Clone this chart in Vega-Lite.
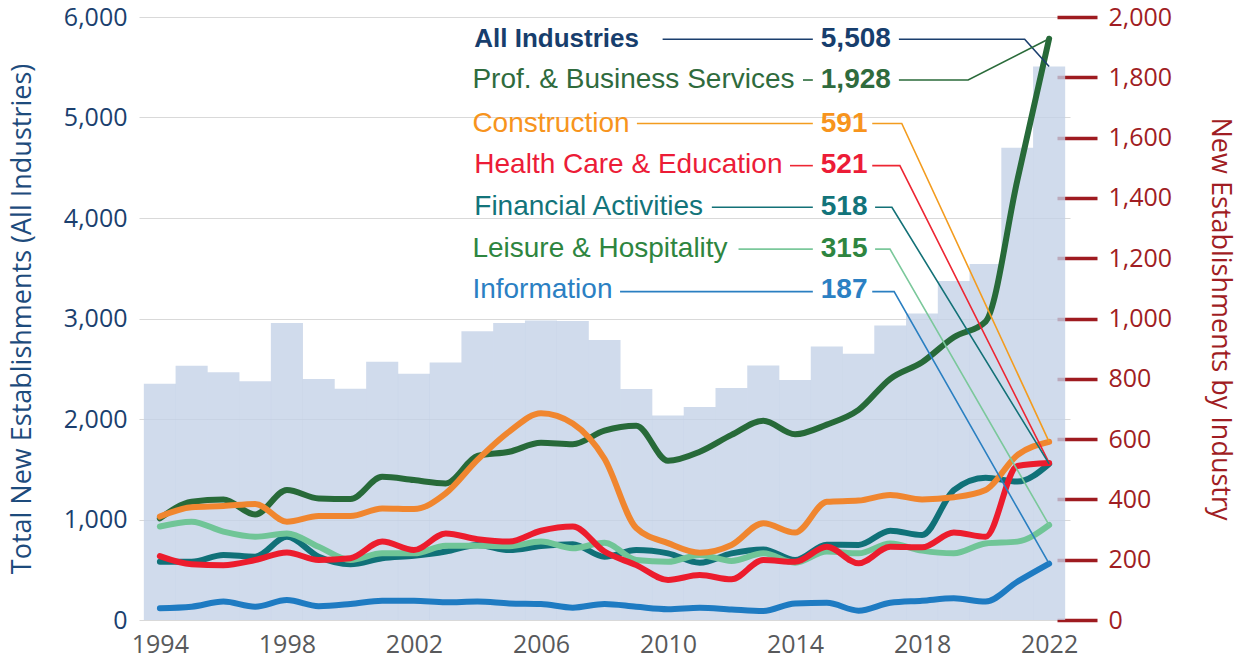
{
  "$schema": "https://vega.github.io/schema/vega-lite/v6.json",
  "width": 931,
  "height": 603,
  "autosize": {"type": "none"},
  "padding": {"left": 139, "top": 17, "right": 176, "bottom": 41},
  "config": {"font": "Open Sans", "view": {"stroke": null}},
  "resolve": {"scale": {"y": "independent", "color": "independent"}},
  "layer": [
    {
      "data": {"values": [
        {"year": 1994, "total": 2350}, {"year": 1995, "total": 2530}, {"year": 1996, "total": 2465},
        {"year": 1997, "total": 2375}, {"year": 1998, "total": 2955}, {"year": 1999, "total": 2398},
        {"year": 2000, "total": 2302}, {"year": 2001, "total": 2570}, {"year": 2002, "total": 2451},
        {"year": 2003, "total": 2562}, {"year": 2004, "total": 2872}, {"year": 2005, "total": 2955},
        {"year": 2006, "total": 2980}, {"year": 2007, "total": 2975}, {"year": 2008, "total": 2786},
        {"year": 2009, "total": 2299}, {"year": 2010, "total": 2035}, {"year": 2011, "total": 2120},
        {"year": 2012, "total": 2308}, {"year": 2013, "total": 2533}, {"year": 2014, "total": 2387},
        {"year": 2015, "total": 2722}, {"year": 2016, "total": 2650}, {"year": 2017, "total": 2930},
        {"year": 2018, "total": 3050}, {"year": 2019, "total": 3373}, {"year": 2020, "total": 3542},
        {"year": 2021, "total": 4700}, {"year": 2022, "total": 5508}
      ]},
      "mark": {"type": "bar", "width": 32.1, "color": "#c3d1e7", "opacity": 0.78},
      "encoding": {
        "x": {"field": "year", "type": "quantitative",
          "scale": {"domain": [1993.5, 2022.5], "nice": false, "zero": false},
          "axis": {"values": [1994, 1998, 2002, 2006, 2010, 2014, 2018, 2022], "format": "d", "title": null,
            "grid": false, "domain": false, "ticks": false, "tickSize": 0, "labelPadding": 12,
            "labelFontSize": 25, "labelColor": "#58595b", "labelFlush": false}},
        "y": {"field": "total", "type": "quantitative",
          "scale": {"domain": [0, 6000], "nice": false},
          "axis": {"orient": "left", "values": [0, 1000, 2000, 3000, 4000, 5000, 6000], "format": ",d",
            "grid": true, "gridColor": "#d9d9d9", "gridWidth": 1.2, "domain": false, "ticks": false, "tickSize": 0,
            "labelPadding": 12, "labelFontSize": 25, "labelColor": "#1b3f6e",
            "title": "Total New Establishments (All Industries)", "titleFontSize": 27, "titleFontWeight": "normal",
            "titleColor": "#1d4b7c", "titlePadding": 27}}
      }
    },
    {
      "resolve": {"scale": {"color": "independent"}},
      "layer": [
        {
          "data": {"values": [
            {"year": 1994, "series": "Information", "v": 39}, {"year": 1995, "series": "Information", "v": 44},
            {"year": 1996, "series": "Information", "v": 61}, {"year": 1997, "series": "Information", "v": 44},
            {"year": 1998, "series": "Information", "v": 66}, {"year": 1999, "series": "Information", "v": 46},
            {"year": 2000, "series": "Information", "v": 53}, {"year": 2001, "series": "Information", "v": 64},
            {"year": 2002, "series": "Information", "v": 64}, {"year": 2003, "series": "Information", "v": 59},
            {"year": 2004, "series": "Information", "v": 61}, {"year": 2005, "series": "Information", "v": 55},
            {"year": 2006, "series": "Information", "v": 53}, {"year": 2007, "series": "Information", "v": 41},
            {"year": 2008, "series": "Information", "v": 53}, {"year": 2009, "series": "Information", "v": 44},
            {"year": 2010, "series": "Information", "v": 36}, {"year": 2011, "series": "Information", "v": 41},
            {"year": 2012, "series": "Information", "v": 35}, {"year": 2013, "series": "Information", "v": 30},
            {"year": 2014, "series": "Information", "v": 55}, {"year": 2015, "series": "Information", "v": 57},
            {"year": 2016, "series": "Information", "v": 31}, {"year": 2017, "series": "Information", "v": 57},
            {"year": 2018, "series": "Information", "v": 64}, {"year": 2019, "series": "Information", "v": 72},
            {"year": 2020, "series": "Information", "v": 61}, {"year": 2021, "series": "Information", "v": 127},
            {"year": 2022, "series": "Information", "v": 187},

            {"year": 1994, "series": "Prof. & Business Services", "v": 337}, {"year": 1995, "series": "Prof. & Business Services", "v": 392},
            {"year": 1996, "series": "Prof. & Business Services", "v": 400}, {"year": 1997, "series": "Prof. & Business Services", "v": 350},
            {"year": 1998, "series": "Prof. & Business Services", "v": 431}, {"year": 1999, "series": "Prof. & Business Services", "v": 403},
            {"year": 2000, "series": "Prof. & Business Services", "v": 401}, {"year": 2001, "series": "Prof. & Business Services", "v": 475},
            {"year": 2002, "series": "Prof. & Business Services", "v": 464}, {"year": 2003, "series": "Prof. & Business Services", "v": 453},
            {"year": 2004, "series": "Prof. & Business Services", "v": 544}, {"year": 2005, "series": "Prof. & Business Services", "v": 558},
            {"year": 2006, "series": "Prof. & Business Services", "v": 588}, {"year": 2007, "series": "Prof. & Business Services", "v": 583},
            {"year": 2008, "series": "Prof. & Business Services", "v": 628}, {"year": 2009, "series": "Prof. & Business Services", "v": 644},
            {"year": 2010, "series": "Prof. & Business Services", "v": 528}, {"year": 2011, "series": "Prof. & Business Services", "v": 558},
            {"year": 2012, "series": "Prof. & Business Services", "v": 614}, {"year": 2013, "series": "Prof. & Business Services", "v": 661},
            {"year": 2014, "series": "Prof. & Business Services", "v": 616}, {"year": 2015, "series": "Prof. & Business Services", "v": 648},
            {"year": 2016, "series": "Prof. & Business Services", "v": 697}, {"year": 2017, "series": "Prof. & Business Services", "v": 800},
            {"year": 2018, "series": "Prof. & Business Services", "v": 855}, {"year": 2019, "series": "Prof. & Business Services", "v": 938},
            {"year": 2020, "series": "Prof. & Business Services", "v": 990}, {"year": 2021, "series": "Prof. & Business Services", "v": 1459},
            {"year": 2022, "series": "Prof. & Business Services", "v": 1928},

            {"year": 1994, "series": "Financial Activities", "v": 193}, {"year": 1995, "series": "Financial Activities", "v": 193},
            {"year": 1996, "series": "Financial Activities", "v": 216}, {"year": 1997, "series": "Financial Activities", "v": 210},
            {"year": 1998, "series": "Financial Activities", "v": 276}, {"year": 1999, "series": "Financial Activities", "v": 210},
            {"year": 2000, "series": "Financial Activities", "v": 185}, {"year": 2001, "series": "Financial Activities", "v": 205},
            {"year": 2002, "series": "Financial Activities", "v": 213}, {"year": 2003, "series": "Financial Activities", "v": 227},
            {"year": 2004, "series": "Financial Activities", "v": 249}, {"year": 2005, "series": "Financial Activities", "v": 232},
            {"year": 2006, "series": "Financial Activities", "v": 245}, {"year": 2007, "series": "Financial Activities", "v": 251},
            {"year": 2008, "series": "Financial Activities", "v": 210}, {"year": 2009, "series": "Financial Activities", "v": 232},
            {"year": 2010, "series": "Financial Activities", "v": 221}, {"year": 2011, "series": "Financial Activities", "v": 190},
            {"year": 2012, "series": "Financial Activities", "v": 221}, {"year": 2013, "series": "Financial Activities", "v": 234},
            {"year": 2014, "series": "Financial Activities", "v": 199}, {"year": 2015, "series": "Financial Activities", "v": 250},
            {"year": 2016, "series": "Financial Activities", "v": 249}, {"year": 2017, "series": "Financial Activities", "v": 296},
            {"year": 2018, "series": "Financial Activities", "v": 282}, {"year": 2019, "series": "Financial Activities", "v": 431},
            {"year": 2020, "series": "Financial Activities", "v": 472}, {"year": 2021, "series": "Financial Activities", "v": 459},
            {"year": 2022, "series": "Financial Activities", "v": 518},

            {"year": 1994, "series": "Leisure & Hospitality", "v": 310}, {"year": 1995, "series": "Leisure & Hospitality", "v": 326},
            {"year": 1996, "series": "Leisure & Hospitality", "v": 293}, {"year": 1997, "series": "Leisure & Hospitality", "v": 276},
            {"year": 1998, "series": "Leisure & Hospitality", "v": 287}, {"year": 1999, "series": "Leisure & Hospitality", "v": 243},
            {"year": 2000, "series": "Leisure & Hospitality", "v": 199}, {"year": 2001, "series": "Leisure & Hospitality", "v": 221},
            {"year": 2002, "series": "Leisure & Hospitality", "v": 221}, {"year": 2003, "series": "Leisure & Hospitality", "v": 246},
            {"year": 2004, "series": "Leisure & Hospitality", "v": 246}, {"year": 2005, "series": "Leisure & Hospitality", "v": 245},
            {"year": 2006, "series": "Leisure & Hospitality", "v": 260}, {"year": 2007, "series": "Leisure & Hospitality", "v": 238},
            {"year": 2008, "series": "Leisure & Hospitality", "v": 256}, {"year": 2009, "series": "Leisure & Hospitality", "v": 199},
            {"year": 2010, "series": "Leisure & Hospitality", "v": 193}, {"year": 2011, "series": "Leisure & Hospitality", "v": 216},
            {"year": 2012, "series": "Leisure & Hospitality", "v": 196}, {"year": 2013, "series": "Leisure & Hospitality", "v": 221},
            {"year": 2014, "series": "Leisure & Hospitality", "v": 190}, {"year": 2015, "series": "Leisure & Hospitality", "v": 227},
            {"year": 2016, "series": "Leisure & Hospitality", "v": 221}, {"year": 2017, "series": "Leisure & Hospitality", "v": 254},
            {"year": 2018, "series": "Leisure & Hospitality", "v": 230}, {"year": 2019, "series": "Leisure & Hospitality", "v": 221},
            {"year": 2020, "series": "Leisure & Hospitality", "v": 254}, {"year": 2021, "series": "Leisure & Hospitality", "v": 260},
            {"year": 2022, "series": "Leisure & Hospitality", "v": 315},

            {"year": 1994, "series": "Health Care & Education", "v": 212}, {"year": 1995, "series": "Health Care & Education", "v": 185},
            {"year": 1996, "series": "Health Care & Education", "v": 182}, {"year": 1997, "series": "Health Care & Education", "v": 199},
            {"year": 1998, "series": "Health Care & Education", "v": 224}, {"year": 1999, "series": "Health Care & Education", "v": 199},
            {"year": 2000, "series": "Health Care & Education", "v": 205}, {"year": 2001, "series": "Health Care & Education", "v": 260},
            {"year": 2002, "series": "Health Care & Education", "v": 232}, {"year": 2003, "series": "Health Care & Education", "v": 287},
            {"year": 2004, "series": "Health Care & Education", "v": 268}, {"year": 2005, "series": "Health Care & Education", "v": 260},
            {"year": 2006, "series": "Health Care & Education", "v": 296}, {"year": 2007, "series": "Health Care & Education", "v": 310},
            {"year": 2008, "series": "Health Care & Education", "v": 227}, {"year": 2009, "series": "Health Care & Education", "v": 182},
            {"year": 2010, "series": "Health Care & Education", "v": 133}, {"year": 2011, "series": "Health Care & Education", "v": 149},
            {"year": 2012, "series": "Health Care & Education", "v": 135}, {"year": 2013, "series": "Health Care & Education", "v": 199},
            {"year": 2014, "series": "Health Care & Education", "v": 193}, {"year": 2015, "series": "Health Care & Education", "v": 243},
            {"year": 2016, "series": "Health Care & Education", "v": 188}, {"year": 2017, "series": "Health Care & Education", "v": 243},
            {"year": 2018, "series": "Health Care & Education", "v": 241}, {"year": 2019, "series": "Health Care & Education", "v": 290},
            {"year": 2020, "series": "Health Care & Education", "v": 276}, {"year": 2021, "series": "Health Care & Education", "v": 511},
            {"year": 2022, "series": "Health Care & Education", "v": 521},

            {"year": 1994, "series": "Construction", "v": 343}, {"year": 1995, "series": "Construction", "v": 374},
            {"year": 1996, "series": "Construction", "v": 378}, {"year": 1997, "series": "Construction", "v": 385},
            {"year": 1998, "series": "Construction", "v": 326}, {"year": 1999, "series": "Construction", "v": 345},
            {"year": 2000, "series": "Construction", "v": 345}, {"year": 2001, "series": "Construction", "v": 370},
            {"year": 2002, "series": "Construction", "v": 368}, {"year": 2003, "series": "Construction", "v": 420},
            {"year": 2004, "series": "Construction", "v": 531}, {"year": 2005, "series": "Construction", "v": 625},
            {"year": 2006, "series": "Construction", "v": 686}, {"year": 2007, "series": "Construction", "v": 652},
            {"year": 2008, "series": "Construction", "v": 535}, {"year": 2009, "series": "Construction", "v": 305},
            {"year": 2010, "series": "Construction", "v": 255}, {"year": 2011, "series": "Construction", "v": 223},
            {"year": 2012, "series": "Construction", "v": 249}, {"year": 2013, "series": "Construction", "v": 321},
            {"year": 2014, "series": "Construction", "v": 290}, {"year": 2015, "series": "Construction", "v": 392},
            {"year": 2016, "series": "Construction", "v": 396}, {"year": 2017, "series": "Construction", "v": 415},
            {"year": 2018, "series": "Construction", "v": 400}, {"year": 2019, "series": "Construction", "v": 407},
            {"year": 2020, "series": "Construction", "v": 431}, {"year": 2021, "series": "Construction", "v": 547},
            {"year": 2022, "series": "Construction", "v": 591}
          ]},
          "mark": {"type": "line", "interpolate": "monotone", "strokeWidth": 6, "strokeCap": "round", "strokeJoin": "round"},
          "encoding": {
            "x": {"field": "year", "type": "quantitative", "title": null},
            "y": {"field": "v", "type": "quantitative",
              "scale": {"domain": [0, 2000], "nice": false},
              "axis": {"orient": "right", "values": [0, 200, 400, 600, 800, 1000, 1200, 1400, 1600, 1800, 2000], "format": ",d",
                "grid": false, "domain": false, "ticks": true, "tickSize": 40, "tickWidth": 3.5, "tickColor": "#9e1b20",
                "offset": -13, "labelPadding": 11, "labelFontSize": 25, "labelColor": "#a01d23",
                "title": "New Establishments by Industry", "titleFontSize": 27, "titleFontWeight": "normal",
                "titleColor": "#a01d23", "titlePadding": 34}},
            "color": {"field": "series", "type": "nominal", "legend": null,
              "scale": {"domain": ["Information", "Prof. & Business Services", "Financial Activities", "Leisure & Hospitality", "Health Care & Education", "Construction"],
                "range": ["#1e7bc2", "#276a39", "#107178", "#70c597", "#ec1c2d", "#f0862f"]}}
          }
        },
        {
          "data": {"values": [
            {"id": "all-a", "series": "All Industries", "year": 2009.83, "v": 1926},
            {"id": "all-a", "series": "All Industries", "year": 2014.56, "v": 1926},
            {"id": "all-b", "series": "All Industries", "year": 2017.27, "v": 1926},
            {"id": "all-b", "series": "All Industries", "year": 2021.23, "v": 1926},
            {"id": "all-b", "series": "All Industries", "year": 2022, "v": 1836},
            {"id": "prof-a", "series": "Prof. & Business Services", "year": 2014.25, "v": 1791},
            {"id": "prof-a", "series": "Prof. & Business Services", "year": 2014.56, "v": 1791},
            {"id": "prof-b", "series": "Prof. & Business Services", "year": 2017.27, "v": 1791},
            {"id": "prof-b", "series": "Prof. & Business Services", "year": 2019.45, "v": 1791},
            {"id": "prof-b", "series": "Prof. & Business Services", "year": 2022, "v": 1928},
            {"id": "con-a", "series": "Construction", "year": 2009.02, "v": 1647},
            {"id": "con-a", "series": "Construction", "year": 2014.56, "v": 1647},
            {"id": "con-b", "series": "Construction", "year": 2016.43, "v": 1647},
            {"id": "con-b", "series": "Construction", "year": 2017.36, "v": 1647},
            {"id": "con-b", "series": "Construction", "year": 2022, "v": 591},
            {"id": "hea-a", "series": "Health Care & Education", "year": 2013.84, "v": 1507},
            {"id": "hea-a", "series": "Health Care & Education", "year": 2014.56, "v": 1507},
            {"id": "hea-b", "series": "Health Care & Education", "year": 2016.43, "v": 1507},
            {"id": "hea-b", "series": "Health Care & Education", "year": 2017.30, "v": 1507},
            {"id": "hea-b", "series": "Health Care & Education", "year": 2022, "v": 521},
            {"id": "fin-a", "series": "Financial Activities", "year": 2011.38, "v": 1369},
            {"id": "fin-a", "series": "Financial Activities", "year": 2014.56, "v": 1369},
            {"id": "fin-b", "series": "Financial Activities", "year": 2016.52, "v": 1369},
            {"id": "fin-b", "series": "Financial Activities", "year": 2017.05, "v": 1369},
            {"id": "fin-b", "series": "Financial Activities", "year": 2022, "v": 518},
            {"id": "lei-a", "series": "Leisure & Hospitality", "year": 2012.22, "v": 1230},
            {"id": "lei-a", "series": "Leisure & Hospitality", "year": 2014.56, "v": 1230},
            {"id": "lei-b", "series": "Leisure & Hospitality", "year": 2016.52, "v": 1230},
            {"id": "lei-b", "series": "Leisure & Hospitality", "year": 2016.99, "v": 1230},
            {"id": "lei-b", "series": "Leisure & Hospitality", "year": 2022, "v": 315},
            {"id": "inf-a", "series": "Information", "year": 2008.49, "v": 1089},
            {"id": "inf-a", "series": "Information", "year": 2014.56, "v": 1089},
            {"id": "inf-b", "series": "Information", "year": 2016.43, "v": 1089},
            {"id": "inf-b", "series": "Information", "year": 2017.12, "v": 1089},
            {"id": "inf-b", "series": "Information", "year": 2022, "v": 187}
          ]},
          "mark": {"type": "line", "strokeWidth": 1.6},
          "encoding": {
            "x": {"field": "year", "type": "quantitative", "title": null},
            "y": {"field": "v", "type": "quantitative"},
            "detail": {"field": "id", "type": "nominal"},
            "color": {"field": "series", "type": "nominal", "legend": null,
              "scale": {"domain": ["All Industries", "Prof. & Business Services", "Construction", "Health Care & Education", "Financial Activities", "Leisure & Hospitality", "Information"],
                "range": ["#1b3f6e", "#2a6b3a", "#f39c1f", "#ed2633", "#137177", "#7bc89b", "#2a7fc1"]}}
          }
        },
        {
          "data": {"values": [
            {"series": "Prof. & Business Services", "label": "Prof. & Business Services", "year": 2003.84, "v": 1763},
            {"series": "Construction", "label": "Construction", "year": 2003.84, "v": 1620},
            {"series": "Health Care & Education", "label": "Health Care & Education", "year": 2003.9, "v": 1481},
            {"series": "Financial Activities", "label": "Financial Activities", "year": 2003.9, "v": 1343},
            {"series": "Leisure & Hospitality", "label": "Leisure & Hospitality", "year": 2003.84, "v": 1205},
            {"series": "Information", "label": "Information", "year": 2003.84, "v": 1067}
          ]},
          "mark": {"type": "text", "align": "left", "baseline": "alphabetic", "fontSize": 28, "font": "Liberation Sans"},
          "encoding": {
            "x": {"field": "year", "type": "quantitative", "title": null},
            "y": {"field": "v", "type": "quantitative"},
            "text": {"field": "label"},
            "color": {"field": "series", "type": "nominal", "legend": null,
              "scale": {"domain": ["All Industries", "Prof. & Business Services", "Construction", "Health Care & Education", "Financial Activities", "Leisure & Hospitality", "Information"],
                "range": ["#173e6d", "#2f6b3d", "#f7941d", "#ec1c37", "#13747a", "#2e8540", "#2b80c3"]}}
          }
        },
        {
          "data": {"values": [
            {"series": "All Industries", "label": "All Industries", "year": 2003.9, "v": 1901}
          ]},
          "mark": {"type": "text", "align": "left", "baseline": "alphabetic", "fontSize": 26, "fontWeight": "bold", "font": "Liberation Sans"},
          "encoding": {
            "x": {"field": "year", "type": "quantitative", "title": null},
            "y": {"field": "v", "type": "quantitative"},
            "text": {"field": "label"},
            "color": {"field": "series", "type": "nominal", "legend": null,
              "scale": {"domain": ["All Industries"], "range": ["#173e6d"]}}
          }
        },
        {
          "data": {"values": [
            {"series": "All Industries", "label": "5,508", "year": 2014.81, "v": 1901},
            {"series": "Prof. & Business Services", "label": "1,928", "year": 2014.81, "v": 1763},
            {"series": "Construction", "label": "591", "year": 2014.81, "v": 1620},
            {"series": "Health Care & Education", "label": "521", "year": 2014.81, "v": 1481},
            {"series": "Financial Activities", "label": "518", "year": 2014.81, "v": 1343},
            {"series": "Leisure & Hospitality", "label": "315", "year": 2014.81, "v": 1205},
            {"series": "Information", "label": "187", "year": 2014.81, "v": 1067}
          ]},
          "mark": {"type": "text", "align": "left", "baseline": "alphabetic", "fontSize": 28, "fontWeight": "bold", "font": "Liberation Sans"},
          "encoding": {
            "x": {"field": "year", "type": "quantitative", "title": null},
            "y": {"field": "v", "type": "quantitative"},
            "text": {"field": "label"},
            "color": {"field": "series", "type": "nominal", "legend": null,
              "scale": {"domain": ["All Industries", "Prof. & Business Services", "Construction", "Health Care & Education", "Financial Activities", "Leisure & Hospitality", "Information"],
                "range": ["#173e6d", "#2f6b3d", "#f7941d", "#ec1c37", "#13747a", "#2e8540", "#2b80c3"]}}
          }
        }
      ]
    }
  ]
}
